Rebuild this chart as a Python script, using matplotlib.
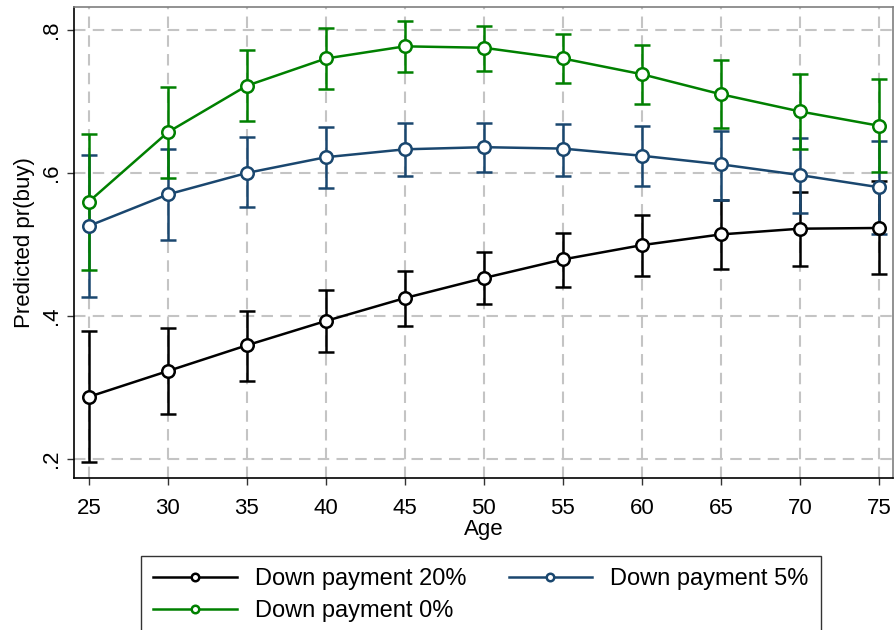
import numpy as np
import matplotlib
matplotlib.use("Agg")
import matplotlib.pyplot as plt

plt.rcParams['font.family'] = ['Liberation Sans', 'DejaVu Sans']

ages = [25, 30, 35, 40, 45, 50, 55, 60, 65, 70, 75]

# Down payment 20%
dp20 = [0.287, 0.323, 0.359, 0.393, 0.425, 0.453, 0.479, 0.499, 0.514, 0.522, 0.523]
dp20_hi = [0.379, 0.383, 0.407, 0.436, 0.463, 0.489, 0.516, 0.541, 0.562, 0.574, 0.588]
dp20_lo = [0.196, 0.263, 0.309, 0.349, 0.386, 0.417, 0.441, 0.456, 0.465, 0.470, 0.458]

# Down payment 5%
dp5 = [0.526, 0.570, 0.600, 0.622, 0.633, 0.636, 0.634, 0.624, 0.612, 0.597, 0.580]
dp5_hi = [0.625, 0.634, 0.650, 0.664, 0.670, 0.670, 0.669, 0.666, 0.659, 0.649, 0.644]
dp5_lo = [0.427, 0.506, 0.552, 0.579, 0.595, 0.601, 0.596, 0.582, 0.562, 0.544, 0.515]

# Down payment 0%
dp0 = [0.560, 0.657, 0.722, 0.760, 0.777, 0.775, 0.760, 0.738, 0.710, 0.686, 0.666]
dp0_hi = [0.654, 0.720, 0.772, 0.802, 0.812, 0.806, 0.794, 0.779, 0.758, 0.739, 0.732]
dp0_lo = [0.464, 0.593, 0.672, 0.718, 0.741, 0.743, 0.726, 0.696, 0.663, 0.634, 0.601]

series = [
    ("Down payment 20%", dp20, dp20_lo, dp20_hi, "black"),
    ("Down payment 5%", dp5, dp5_lo, dp5_hi, "#1a476f"),
    ("Down payment 0%", dp0, dp0_lo, dp0_hi, "#008000"),
]

fig = plt.figure(figsize=(8.96, 6.3), dpi=100)
ax = fig.add_axes([74 / 896, 1 - 478 / 630, (893 - 74) / 896, (478 - 7) / 630])

handles = {}
for label, y, lo, hi, col in series:
    y = np.array(y)
    err = np.vstack([y - np.array(lo), np.array(hi) - y])
    ax.errorbar(ages, y, yerr=err, fmt="none", ecolor=col, elinewidth=1.8,
                capsize=6, capthick=1.8, zorder=3)
    h, = ax.plot(ages, y, color=col, lw=1.8, marker="o", ms=9,
                 mfc="white", mec=col, mew=1.8, zorder=4, label=label)
    handles[label] = h

ax.set_xlim(24.05, 75.9)
ax.set_ylim(0.1734, 0.832)
ax.set_xticks(ages)
ax.set_yticks([0.2, 0.4, 0.6, 0.8])
ax.set_yticklabels([".2", ".4", ".6", ".8"], rotation=90, va="center")
ax.tick_params(axis="both", labelsize=16, length=5, width=1, color="#333333", pad=4)
ax.tick_params(axis="x", pad=9.5)
ax.grid(True, color="#c4c4c4", linestyle=(0, (5.5, 3.5)), linewidth=1.5)
ax.set_axisbelow(True)

for s in ["top", "right"]:
    ax.spines[s].set_color("#7f7f7f")
    ax.spines[s].set_linewidth(1.2)
for s in ["left", "bottom"]:
    ax.spines[s].set_color("black")
    ax.spines[s].set_linewidth(1.2)

ax.set_xlabel("Age", fontsize=16, labelpad=0)
ax.set_ylabel("Predicted pr(buy)", fontsize=16, labelpad=4)

# matplotlib fills legend columns first, so order for row-wise layout
order = ["Down payment 20%", "Down payment 0%", "Down payment 5%"]
leg = fig.legend(handles=[handles[k] for k in order], loc="upper left",
                 bbox_to_anchor=(141 / 896, 1 - 556 / 630), ncol=2,
                 fontsize=17, frameon=True, fancybox=False, markerscale=0.6,
                 handlelength=3.55, handletextpad=0.76, columnspacing=1.8,
                 borderpad=0.5, labelspacing=0.45, borderaxespad=0)
leg.get_frame().set_edgecolor("black")
leg.get_frame().set_linewidth(1.0)

fig.savefig("out.png", dpi=100)
